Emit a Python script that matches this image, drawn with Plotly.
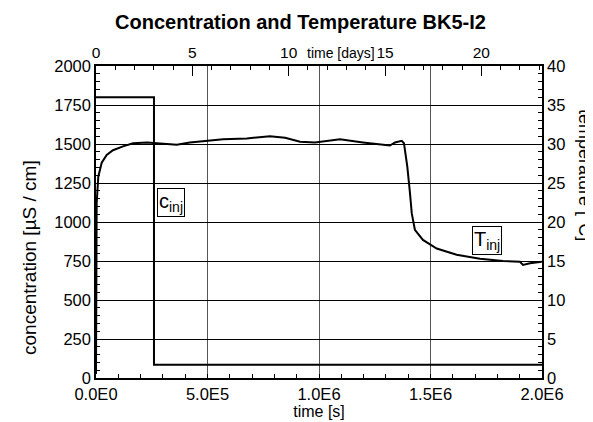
import plotly.graph_objects as go

# ---- data ----
# injection concentration step (left axis, µS/cm)
c_time = [0, 260000, 260000, 2000000]
c_vals = [1800, 1800, 85, 85]

# temperature curve (right axis, °C)
t_time = [0, 1000, 2000, 3000, 10300, 25600, 48000, 76200, 121000, 166000,
          229000, 287000, 362000, 421000, 496000, 570000, 676000, 780000,
          848000, 915000, 982000, 1049000, 1094000, 1197000, 1274000, 1318000,
          1341000, 1371000, 1381000, 1396000, 1408000, 1416000, 1430000,
          1466000, 1528000, 1617000, 1722000, 1825000, 1901000, 1915000,
          1946000, 1999000]
t_vals = [0.5, 12.0, 19.9, 22.4, 25.8, 27.6, 28.6, 29.2, 29.7, 30.1,
          30.2, 30.1, 29.9, 30.2, 30.4, 30.6, 30.7, 31.0,
          30.8, 30.3, 30.2, 30.4, 30.6, 30.2, 29.9, 29.8,
          30.2, 30.4, 30.1, 27.1, 23.7, 21.1, 19.0,
          17.7, 16.6, 15.8, 15.3, 15.0, 14.9, 14.5,
          14.7, 14.9]

x_tickvals = [0, 500000, 1000000, 1500000, 2000000]
x_ticktext = ["0.0E0", "5.0E5", "1.0E6", "1.5E6", "2.0E6"]
day_ticks = [0, 5, 10, 15, 20]
conc_ticks = [0, 250, 500, 750, 1000, 1250, 1500, 1750, 2000]
temp_ticks = [0, 5, 10, 15, 20, 25, 30, 35, 40]

FONT = "Liberation Sans, Arial, sans-serif"
# page body has an 8px margin; compensate so the plot lands where the reference has it
OFF = 8
W, H = 593 - OFF, 422 - OFF
L, R, T, B = 96 - OFF, 51, 66 - OFF, 44
PW, PH = W - L - R, H - T - B


def px_x(xref_px):
    return (xref_px - OFF - L) / PW


def px_y(yref_px):
    return (H - B - (yref_px - OFF)) / PH


fig = go.Figure()
fig.add_trace(go.Scatter(x=c_time, y=c_vals, mode="lines",
                         line=dict(color="black", width=2), xaxis="x", yaxis="y",
                         showlegend=False))
fig.add_trace(go.Scatter(x=t_time, y=t_vals, mode="lines",
                         line=dict(color="black", width=2), xaxis="x", yaxis="y2",
                         showlegend=False))
# invisible trace to activate top axis
fig.add_trace(go.Scatter(x=[0, 2000000 / 86400], y=[None, None], mode="lines",
                         xaxis="x2", yaxis="y", showlegend=False, hoverinfo="skip"))

tickfont = dict(family=FONT, size=16.5, color="black")
topfont = dict(family=FONT, size=15.5, color="black")

fig.update_layout(
    width=W, height=H,
    margin=dict(l=L, r=R, t=T, b=B, autoexpand=False),
    paper_bgcolor="white", plot_bgcolor="white",
    title=dict(text="<b>Concentration and Temperature BK5-I2</b>",
               font=dict(family=FONT, size=20, color="black"),
               x=0.5, xanchor="center", y=1 - (22 - OFF) / H, yanchor="middle"),
    xaxis=dict(range=[0, 2000000], tickvals=x_tickvals, ticktext=x_ticktext,
               showgrid=True, gridcolor="#555555", gridwidth=1, automargin=False,
               showline=True, linecolor="black", linewidth=1.5, mirror=False,
               ticks="inside", ticklen=0, tickfont=tickfont, zeroline=False,
               minor=dict(dtick=100000, ticks="inside", ticklen=4,
                          tickcolor="black", showgrid=False),
               title=dict(text="time [s]", font=dict(family=FONT, size=16, color="black"),
                          standoff=2)),
    xaxis2=dict(range=[0, 2000000 / 86400], overlaying="x", side="top",
                tickvals=day_ticks, showgrid=False, zeroline=False, automargin=False,
                showline=True, linecolor="black", linewidth=1.5,
                ticks="inside", ticklen=10, tickcolor="black", tickwidth=1,
                tickfont=topfont,
                minor=dict(dtick=1, ticks="inside", ticklen=4, tickcolor="black")),
    yaxis=dict(range=[0, 2000], tickvals=conc_ticks, automargin=False,
               showgrid=True, gridcolor="black", gridwidth=1,
               showline=True, linecolor="black", linewidth=1.5, zeroline=False,
               ticks="inside", ticklen=0, tickfont=tickfont,
               minor=dict(dtick=50, ticks="inside", ticklen=4, tickcolor="black",
                          showgrid=False)),
    yaxis2=dict(range=[0, 40], tickvals=temp_ticks, overlaying="y", side="right",
                showgrid=False, zeroline=False, automargin=False,
                showline=True, linecolor="black", linewidth=1.5,
                ticks="inside", ticklen=0, tickfont=tickfont,
                minor=dict(dtick=1, ticks="inside", ticklen=4, tickcolor="black")),
    annotations=[
        dict(text="time [days]", xref="paper", yref="paper",
             x=px_x(341), y=px_y(53),
             showarrow=False, font=dict(family=FONT, size=14, color="black"),
             xanchor="center", yanchor="middle"),
        dict(text="concentration [µS / cm]", xref="paper", yref="paper",
             x=px_x(29), y=px_y(258),
             showarrow=False, textangle=-90,
             font=dict(family=FONT, size=19, color="black"),
             xanchor="center", yanchor="middle"),
        dict(text="temperature [°C]", xref="paper", yref="paper",
             x=px_x(585), y=px_y(175),
             showarrow=False, textangle=90,
             font=dict(family=FONT, size=18, color="black"),
             xanchor="center", yanchor="middle"),
        dict(text="c<sub>inj</sub>", xref="x", yref="y", x=272000, y=1128,
             showarrow=False, font=dict(family=FONT, size=20, color="black"),
             bordercolor="black", borderwidth=1, borderpad=1, bgcolor="white",
             xanchor="left", yanchor="middle"),
        dict(text="T<sub>inj</sub>", xref="x", yref="y2", x=1688000, y=17.6,
             showarrow=False, font=dict(family=FONT, size=20, color="black"),
             bordercolor="black", borderwidth=1, borderpad=1, bgcolor="white",
             xanchor="left", yanchor="middle"),
    ],
)

fig.write_html("out.html")
